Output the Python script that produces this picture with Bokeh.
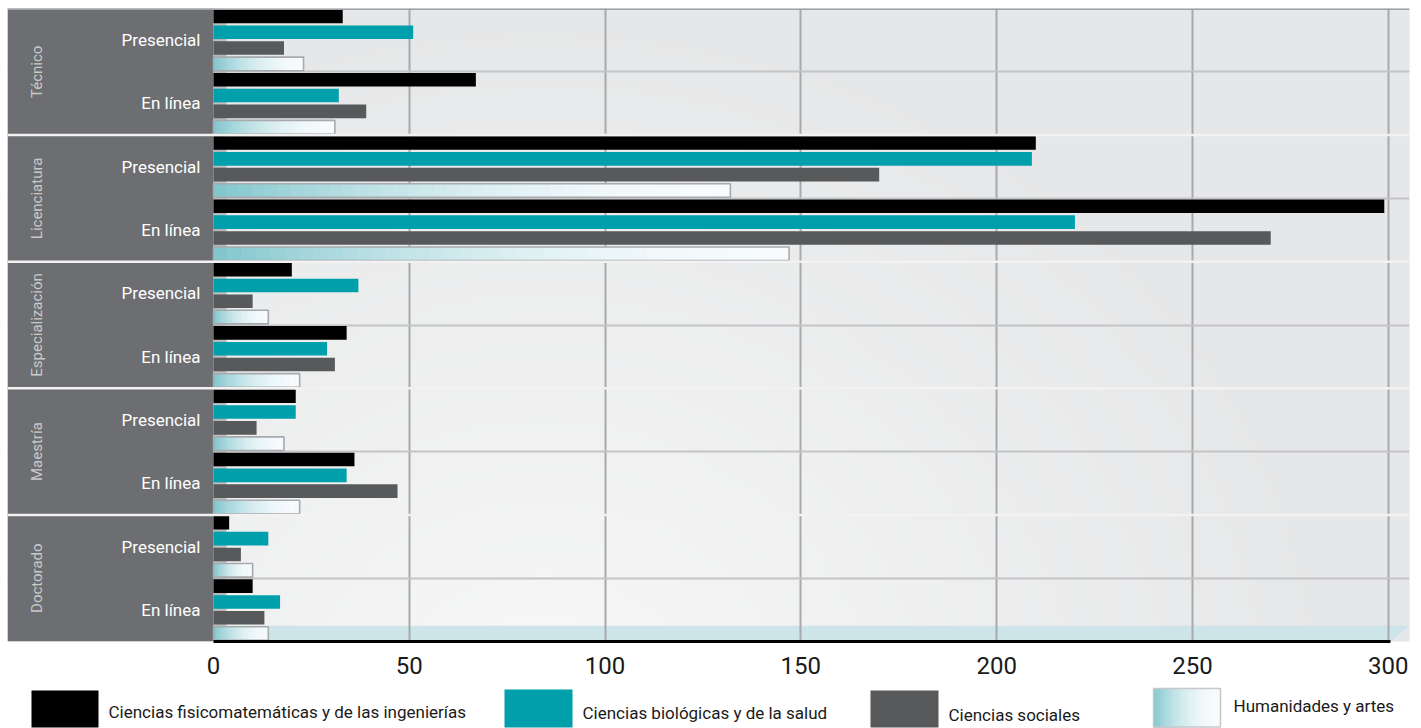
import numpy as np
from bokeh.plotting import figure
from bokeh.models import Range1d, FixedTicker, Grid, Span, ColumnDataSource
from bokeh.layouts import column
from bokeh.embed import file_html
from bokeh.resources import INLINE
from bokeh.core.properties import value

# ---------------- data ----------------
groups = ["Técnico", "Licenciatura", "Especialización", "Maestría", "Doctorado"]
modes = ["Presencial", "En línea"]
series_names = ["Ciencias fisicomatemáticas y de las ingenierías",
                "Ciencias biológicas y de la salud",
                "Ciencias sociales",
                "Humanidades y artes"]
# order: Técnico Pres, Técnico Línea, Licenciatura Pres, Licenciatura Línea, ...
fisicomat = [33, 67, 210, 299, 20, 34, 21, 36, 4, 10]
biologicas = [51, 32, 209, 220, 37, 29, 21, 34, 14, 17]
sociales = [18, 39, 170, 270, 10, 31, 11, 47, 7, 13]
humanidades = [23, 31, 132, 147, 14, 22, 18, 22, 10, 14]
x_ticks = [0, 50, 100, 150, 200, 250, 300]

# ---------------- styles ----------------
FONT = "Roboto"
C_BLACK = "#000000"
C_TEAL = "#009fac"
C_GRAY = "#58595b"
HUM_START = np.array([128, 198, 205])
HUM_END = np.array([247, 251, 253])
PANEL = "#6d6e71"

n_series = 4
n_blocks = len(groups) * len(modes)
n_rows = n_blocks * n_series

S = 3.9157            # px per unit
PANEL_W = 206         # px
PLOT_W = 1196         # px
FH = 633
X_MIN = -PANEL_W / S
X_END = PLOT_W / S


def hum_color(t):
    e = 1 - (1 - t) ** 2
    c = HUM_START + (HUM_END - HUM_START) * e
    return "#%02x%02x%02x" % tuple(int(round(v)) for v in c)


# ---------------- main plot ----------------
p = figure(frame_width=PANEL_W + PLOT_W, frame_height=FH,
           x_range=Range1d(X_MIN, X_END), y_range=Range1d(n_rows, 0),
           y_axis_type=None, toolbar_location=None, output_backend="svg",
           min_border_left=7, min_border_right=8, min_border_top=8, min_border_bottom=40)
p.outline_line_color = None
p.background_fill_color = "#e7e8e9"
p.border_fill_color = "white"

# background gradient (plot part)
H, W = 90, 180
img = np.zeros((H, W), dtype=np.uint32)
view = img.view(dtype=np.uint8).reshape((H, W, 4))
px_per_y = FH / n_rows
jj, ii = np.mgrid[0:H, 0:W]
ydata = (jj + 0.5) / H * n_rows
xdata = (ii + 0.5) / W * X_END
dx = xdata * S - 330
dy = ydata * px_per_y - 700
d = np.sqrt(dx ** 2 + (dy * 1.15) ** 2)
t = np.clip(d / 820, 0, 1) ** 0.9
lo = np.array([249, 249, 249])
hi = np.array([230, 231, 232])
for k in range(3):
    view[:, :, k] = (lo[k] + (hi[k] - lo[k]) * t).astype(np.uint8)
view[:, :, 3] = 255
p.image_rgba(image=[img], x=0, y=0, dw=X_END, dh=n_rows, level="image")

# light teal floor band at the last row (with bevelled right end)
band_end = 300.6
p.patch(x=[0, X_END, band_end, 0], y=[n_rows - 1, n_rows - 1, n_rows, n_rows],
        fill_color="#cde4e8", line_color=None, level="underlay")

# grids
p.xgrid.ticker = FixedTicker(ticks=x_ticks[1:])
p.xgrid.grid_line_color = "#a7a9ac"
p.xgrid.grid_line_width = 2
sub_bounds = [b * n_series for b in range(1, n_blocks) if b % 2 == 1]
grp_bounds = [b * n_series for b in range(1, n_blocks) if b % 2 == 0]
p.add_layout(Grid(dimension=1, ticker=FixedTicker(ticks=sub_bounds),
                  grid_line_color="#c3c4c6", grid_line_width=2))

# left category panel
p.quad(left=[X_MIN], right=[0], top=[0], bottom=[n_rows], fill_color=PANEL, line_color=None)

# bars
all_vals = [fisicomat, biologicas, sociales, humanidades]
rows_center = {s: [b * n_series + s + 0.5 for b in range(n_blocks)] for s in range(n_series)}

stub_y = [b * n_series + s + 0.5 for b in range(n_blocks) for s in range(n_series)]
p.hbar(y=stub_y, left=0, right=3.3, height=1.0, fill_color="#b4b6b8", line_color=None)

for s, col in zip(range(3), [C_BLACK, C_TEAL, C_GRAY]):
    p.hbar(y=rows_center[s], left=0, right=all_vals[s], height=0.86,
           fill_color=col, line_color=None)

N = 40
gy, gl, gr, gc = [], [], [], []
for yc, v in zip(rows_center[3], humanidades):
    for k in range(N):
        gy.append(yc)
        gl.append(v * k / N)
        gr.append(v * (k + 1) / N)
        gc.append(hum_color((k + 0.5) / N))
p.hbar(y="y", left="l", right="r", height=0.86, fill_color="c", line_color="c", line_width=0.6,
       source=ColumnDataSource(dict(y=gy, l=gl, r=gr, c=gc)))
p.hbar(y=rows_center[3], left=0, right=humanidades, height=0.86,
       fill_color=None, line_color="#a7a9ac", line_width=1.6)

for gb in grp_bounds:
    p.add_layout(Span(location=gb, dimension="width", line_color="#f2f2f2", line_width=2.5))
p.add_layout(Span(location=0, dimension="width", line_color="#a0a2a5", line_width=3))

# category labels
sub_y = [b * n_series + n_series / 2 for b in range(n_blocks)]
sub_txt = [modes[b % 2] for b in range(n_blocks)]
p.text(x=[-13 / S] * n_blocks, y=sub_y, text=sub_txt, text_align="right",
       text_baseline="middle", text_color="white", text_font=value(FONT),
       text_font_size="17px")
grp_y = [g * 2 * n_series + n_series for g in range(len(groups))]
p.text(x=[X_MIN + 29 / S] * len(groups), y=grp_y, text=groups, angle=np.pi / 2,
       text_align="center", text_baseline="middle", text_color="#c9cacc",
       text_font=value(FONT), text_font_size="15px")

# axis
ax = p.xaxis[0]
ax.ticker = FixedTicker(ticks=x_ticks)
ax.bounds = (0, 300.5)
ax.axis_line_color = "black"
ax.axis_line_width = 3
ax.major_tick_line_color = None
ax.minor_tick_line_color = None
ax.major_label_standoff = 9
ax.major_label_text_font = FONT
ax.major_label_text_font_size = "24px"
ax.major_label_text_color = "#1a1a1a"

# ---------------- legend ----------------
LH = 47
FRAME_LEFT = 7
FRAME_W = PANEL_W + PLOT_W
LW = FRAME_LEFT + FRAME_W + 8
lf = figure(width=LW, height=LH, frame_width=FRAME_W,
            x_range=Range1d(FRAME_LEFT, FRAME_LEFT + FRAME_W), y_range=Range1d(LH, 0),
            x_axis_type=None, y_axis_type=None, toolbar_location=None, output_backend="svg",
            min_border=0, min_border_left=FRAME_LEFT, min_border_right=8)
lf.outline_line_color = None
lf.grid.visible = False
lf.background_fill_color = "white"
lf.border_fill_color = "white"

sw_left = [31, 504, 870, 1153]
sw_right = [98, 572, 938, 1220]
sw_top = [9, 8, 9, 7]
txt_x = [108, 582, 948, 1233]
txt_y = [30, 31, 33, 24]
for s, col in zip(range(3), [C_BLACK, C_TEAL, C_GRAY]):
    lf.quad(left=[sw_left[s]], right=[sw_right[s]], top=[sw_top[s]], bottom=[LH - 1],
            fill_color=col, line_color=None)
M = 40
ql, qr, qc = [], [], []
for k in range(M):
    w = (sw_right[3] - sw_left[3]) / M
    ql.append(sw_left[3] + k * w)
    qr.append(sw_left[3] + (k + 1) * w)
    qc.append(hum_color((k + 0.5) / M))
lf.quad(left="l", right="r", top=sw_top[3], bottom=LH - 1, fill_color="c", line_color="c",
        line_width=0.6, source=ColumnDataSource(dict(l=ql, r=qr, c=qc)))
lf.quad(left=[sw_left[3]], right=[sw_right[3]], top=[sw_top[3]], bottom=[LH - 1.5],
        fill_color=None, line_color="#c7c8ca", line_width=1.5)
lf.text(x=txt_x, y=txt_y, text=series_names, text_baseline="middle", text_align="left",
        text_color="#1a1a1a", text_font=value(FONT), text_font_size="17px")

layout = column(p, lf)
open("out.html", "w").write(file_html(layout, INLINE))
